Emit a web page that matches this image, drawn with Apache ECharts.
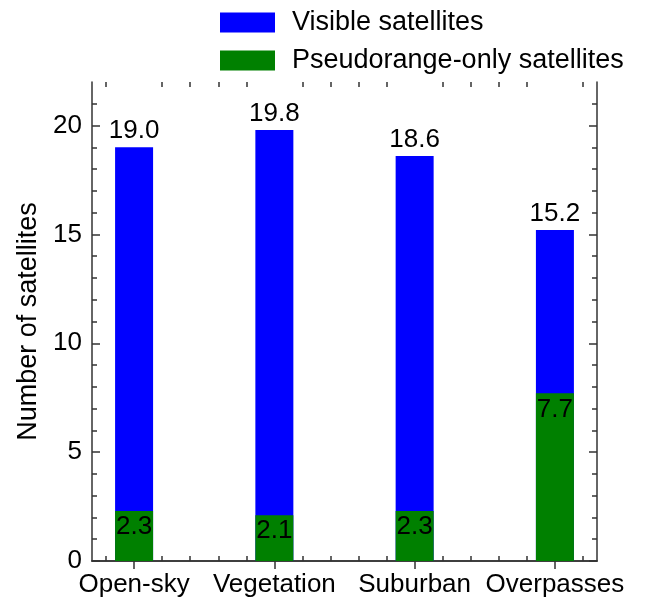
<!DOCTYPE html>
<html>
<head>
<meta charset="utf-8">
<script src="https://cdn.jsdelivr.net/npm/echarts@6/dist/echarts.min.js"></script>
<style>
  html, body { margin: 0; padding: 0; background: #fff; }
  #chart { width: 648px; height: 601px; }
</style>
</head>
<body>
<div id="chart"></div>
<script>
// Scenario names and per-scenario satellite counts
const categories = ['Open-sky', 'Vegetation', 'Suburban', 'Overpasses'];
const visibleSatellites = [19.0, 19.8, 18.6, 15.2];
const pseudorangeOnly = [2.3, 2.1, 2.3, 7.7];
const yTicks = [0, 5, 10, 15, 20];

// Categories sit at x = 1..4 on a value axis so the frame can extend past them
const catPositions = categories.map((_, i) => i + 1);
const minorX = [];
for (let k = 8; k <= 42; k += 2) {
  if (k % 10 !== 0) minorX.push(k / 10);
}

const font = 'Arial, "Liberation Sans", sans-serif';
const axisColor = '#333';

function xAxisDef(pos, showLabels) {
  return {
    type: 'value', position: pos, min: 0.7, max: 4.3,
    axisLine: { show: true, lineStyle: { color: axisColor, width: 1.5 } },
    axisTick: { show: true, inside: true, length: 8, customValues: catPositions,
      lineStyle: { color: axisColor, width: 1.5 } },
    axisLabel: { show: showLabels, customValues: catPositions, margin: 11,
      formatter: v => categories[Math.round(v) - 1] || '',
      color: '#000', fontSize: 26, fontFamily: font },
    splitLine: { show: false }
  };
}
// Extra axis carrying only the short in-between ticks
function xMinorDef(pos) {
  return {
    type: 'value', position: pos, min: 0.7, max: 4.3,
    axisLine: { show: false },
    axisTick: { show: true, inside: true, length: 5, customValues: minorX,
      lineStyle: { color: axisColor, width: 1.5 } },
    axisLabel: { show: false },
    splitLine: { show: false }
  };
}
function yAxisDef(pos, showLabels) {
  return {
    type: 'value', position: pos, min: 0, max: 22, interval: 5,
    name: showLabels ? 'Number of satellites' : '',
    nameLocation: 'middle', nameGap: 50, nameRotate: 90,
    nameTextStyle: { color: '#000', fontSize: 27, fontFamily: font },
    axisLine: { show: true, lineStyle: { color: axisColor, width: 1.5 } },
    axisTick: { show: true, inside: true, length: 8,
      customValues: yTicks, lineStyle: { color: axisColor, width: 1.5 } },
    minorTick: { show: true, splitNumber: 5, length: 5,
      lineStyle: { color: axisColor, width: 1.5 } },
    axisLabel: { show: showLabels, customValues: yTicks, margin: 10,
      color: '#000', fontSize: 26, fontFamily: font },
    splitLine: { show: false }
  };
}

const chart = echarts.init(document.getElementById('chart'), null, { renderer: 'canvas' });
chart.setOption({
  animation: false,
  backgroundColor: '#fff',
  grid: { left: 92, top: 82, right: 51, bottom: 40, containLabel: false },
  legend: {
    orient: 'vertical', left: 215, top: 4,
    padding: 5,
    itemWidth: 55, itemHeight: 20, itemGap: 11,
    icon: 'rect',
    textStyle: { color: '#000', fontSize: 27, lineHeight: 20, fontFamily: font,
      padding: [0, 0, 0, 12] },
    data: ['Visible satellites', 'Pseudorange-only satellites']
  },
  xAxis: [xAxisDef('bottom', true), xAxisDef('top', false), xMinorDef('bottom'), xMinorDef('top')],
  yAxis: [yAxisDef('left', true), yAxisDef('right', false)],
  series: [
    {
      name: 'Visible satellites', type: 'bar', xAxisIndex: 0, yAxisIndex: 0,
      barWidth: 38, barGap: '-100%',
      itemStyle: { color: '#0000ff' },
      label: { show: true, position: 'top', distance: 3, color: '#000', fontSize: 26,
        fontFamily: font, formatter: p => p.value[1].toFixed(1) },
      data: visibleSatellites.map((v, i) => [catPositions[i], v]),
      z: 2
    },
    {
      name: 'Pseudorange-only satellites', type: 'bar', xAxisIndex: 0, yAxisIndex: 0,
      barWidth: 38, barGap: '-100%',
      itemStyle: { color: '#008000' },
      label: { show: true, position: 'insideTop', distance: 3, color: '#000', fontSize: 26,
        fontFamily: font, formatter: p => p.value[1].toFixed(1) },
      data: pseudorangeOnly.map((v, i) => [catPositions[i], v]),
      z: 3
    }
  ]
});
</script>
</body>
</html>
